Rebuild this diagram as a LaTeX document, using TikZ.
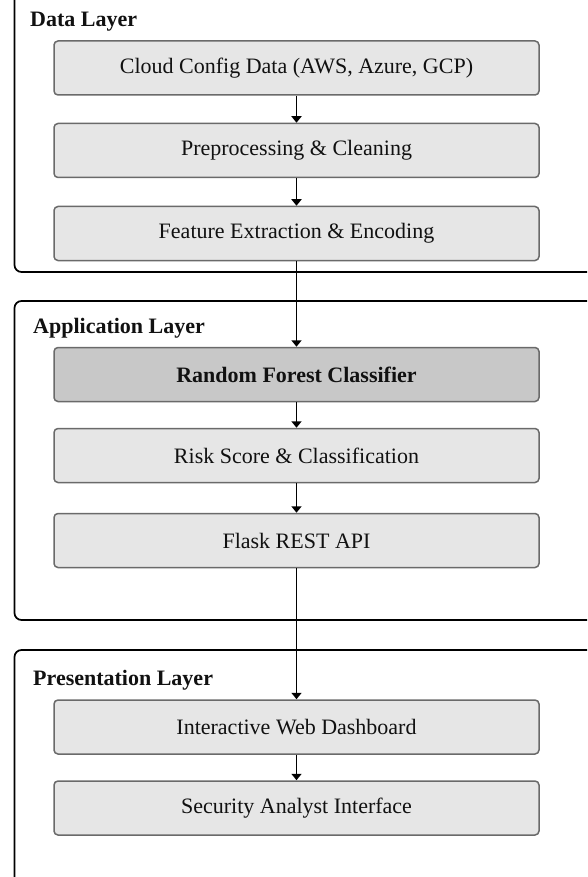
\documentclass[tikz,border=0pt]{standalone}
\usepackage{fontspec}
\setmainfont{Liberation Serif}
\usetikzlibrary{arrows.meta}
\definecolor{boxfill}{HTML}{E6E6E6}
\definecolor{boxdark}{HTML}{C8C8C8}
\definecolor{boxedge}{HTML}{6A6A6A}
\definecolor{txt}{HTML}{111111}
\begin{document}
\begin{tikzpicture}[x=1pt,y=-1pt,
  layerbox/.style={draw=black, line width=1.7pt, rounded corners=7pt, fill=white},
  ltitle/.style={anchor=base west, text=txt, font=\fontsize{22}{26}\selectfont\bfseries, inner sep=0pt},
  procbox/.style={draw=boxedge, line width=1.5pt, rounded corners=4pt, fill=boxfill,
     minimum width=485pt, minimum height=54pt, inner sep=0pt, text=txt,
     font=\fontsize{22}{26}\selectfont},
  keybox/.style={procbox, fill=boxdark, font=\fontsize{22}{26}\selectfont\bfseries},
  flow/.style={draw=black, line width=1.6pt, -{Triangle[width=10pt,length=6.5pt]}},
]
\useasboundingbox (0,0) rectangle (587,877);
\fill[white] (0,0) rectangle (587,877);
\begin{scope}
\clip (0,0) rectangle (587,877);
\draw[layerbox] (14.5,-30) rectangle (640,272);
\draw[layerbox] (14.5,301) rectangle (640,620);
\draw[layerbox] (14.5,650) rectangle (640,884);
\end{scope}

\node[ltitle] (tdata) at (30,27) {Data Layer};
\node[ltitle] (tapp) at (33,333) {Application Layer};
\node[ltitle] (tpres) at (33,685) {Presentation Layer};

\node[procbox] (cloud) at (296.5,68) {Cloud Config Data (AWS, Azure, GCP)};
\node[procbox] (prep) at (296.5,150.5) {Preprocessing \& Cleaning};
\node[procbox] (feat) at (296.5,233.5) {Feature Extraction \& Encoding};

\node[keybox] (rf) at (296.5,374.5) {Random Forest Classifier};
\node[procbox] (risk) at (296.5,455.5) {Risk Score \& Classification};
\node[procbox] (api) at (296.5,540.5) {Flask REST API};

\node[procbox] (dash) at (296.5,727) {Interactive Web Dashboard};
\node[procbox] (sec) at (296.5,808) {Security Analyst Interface};

\draw[flow] (cloud) -- (prep);
\draw[flow] (prep) -- (feat);
\draw[flow] (feat) -- (rf);
\draw[flow] (rf) -- (risk);
\draw[flow] (risk) -- (api);
\draw[flow] (api) -- (dash);
\draw[flow] (dash) -- (sec);
\end{tikzpicture}
\end{document}
